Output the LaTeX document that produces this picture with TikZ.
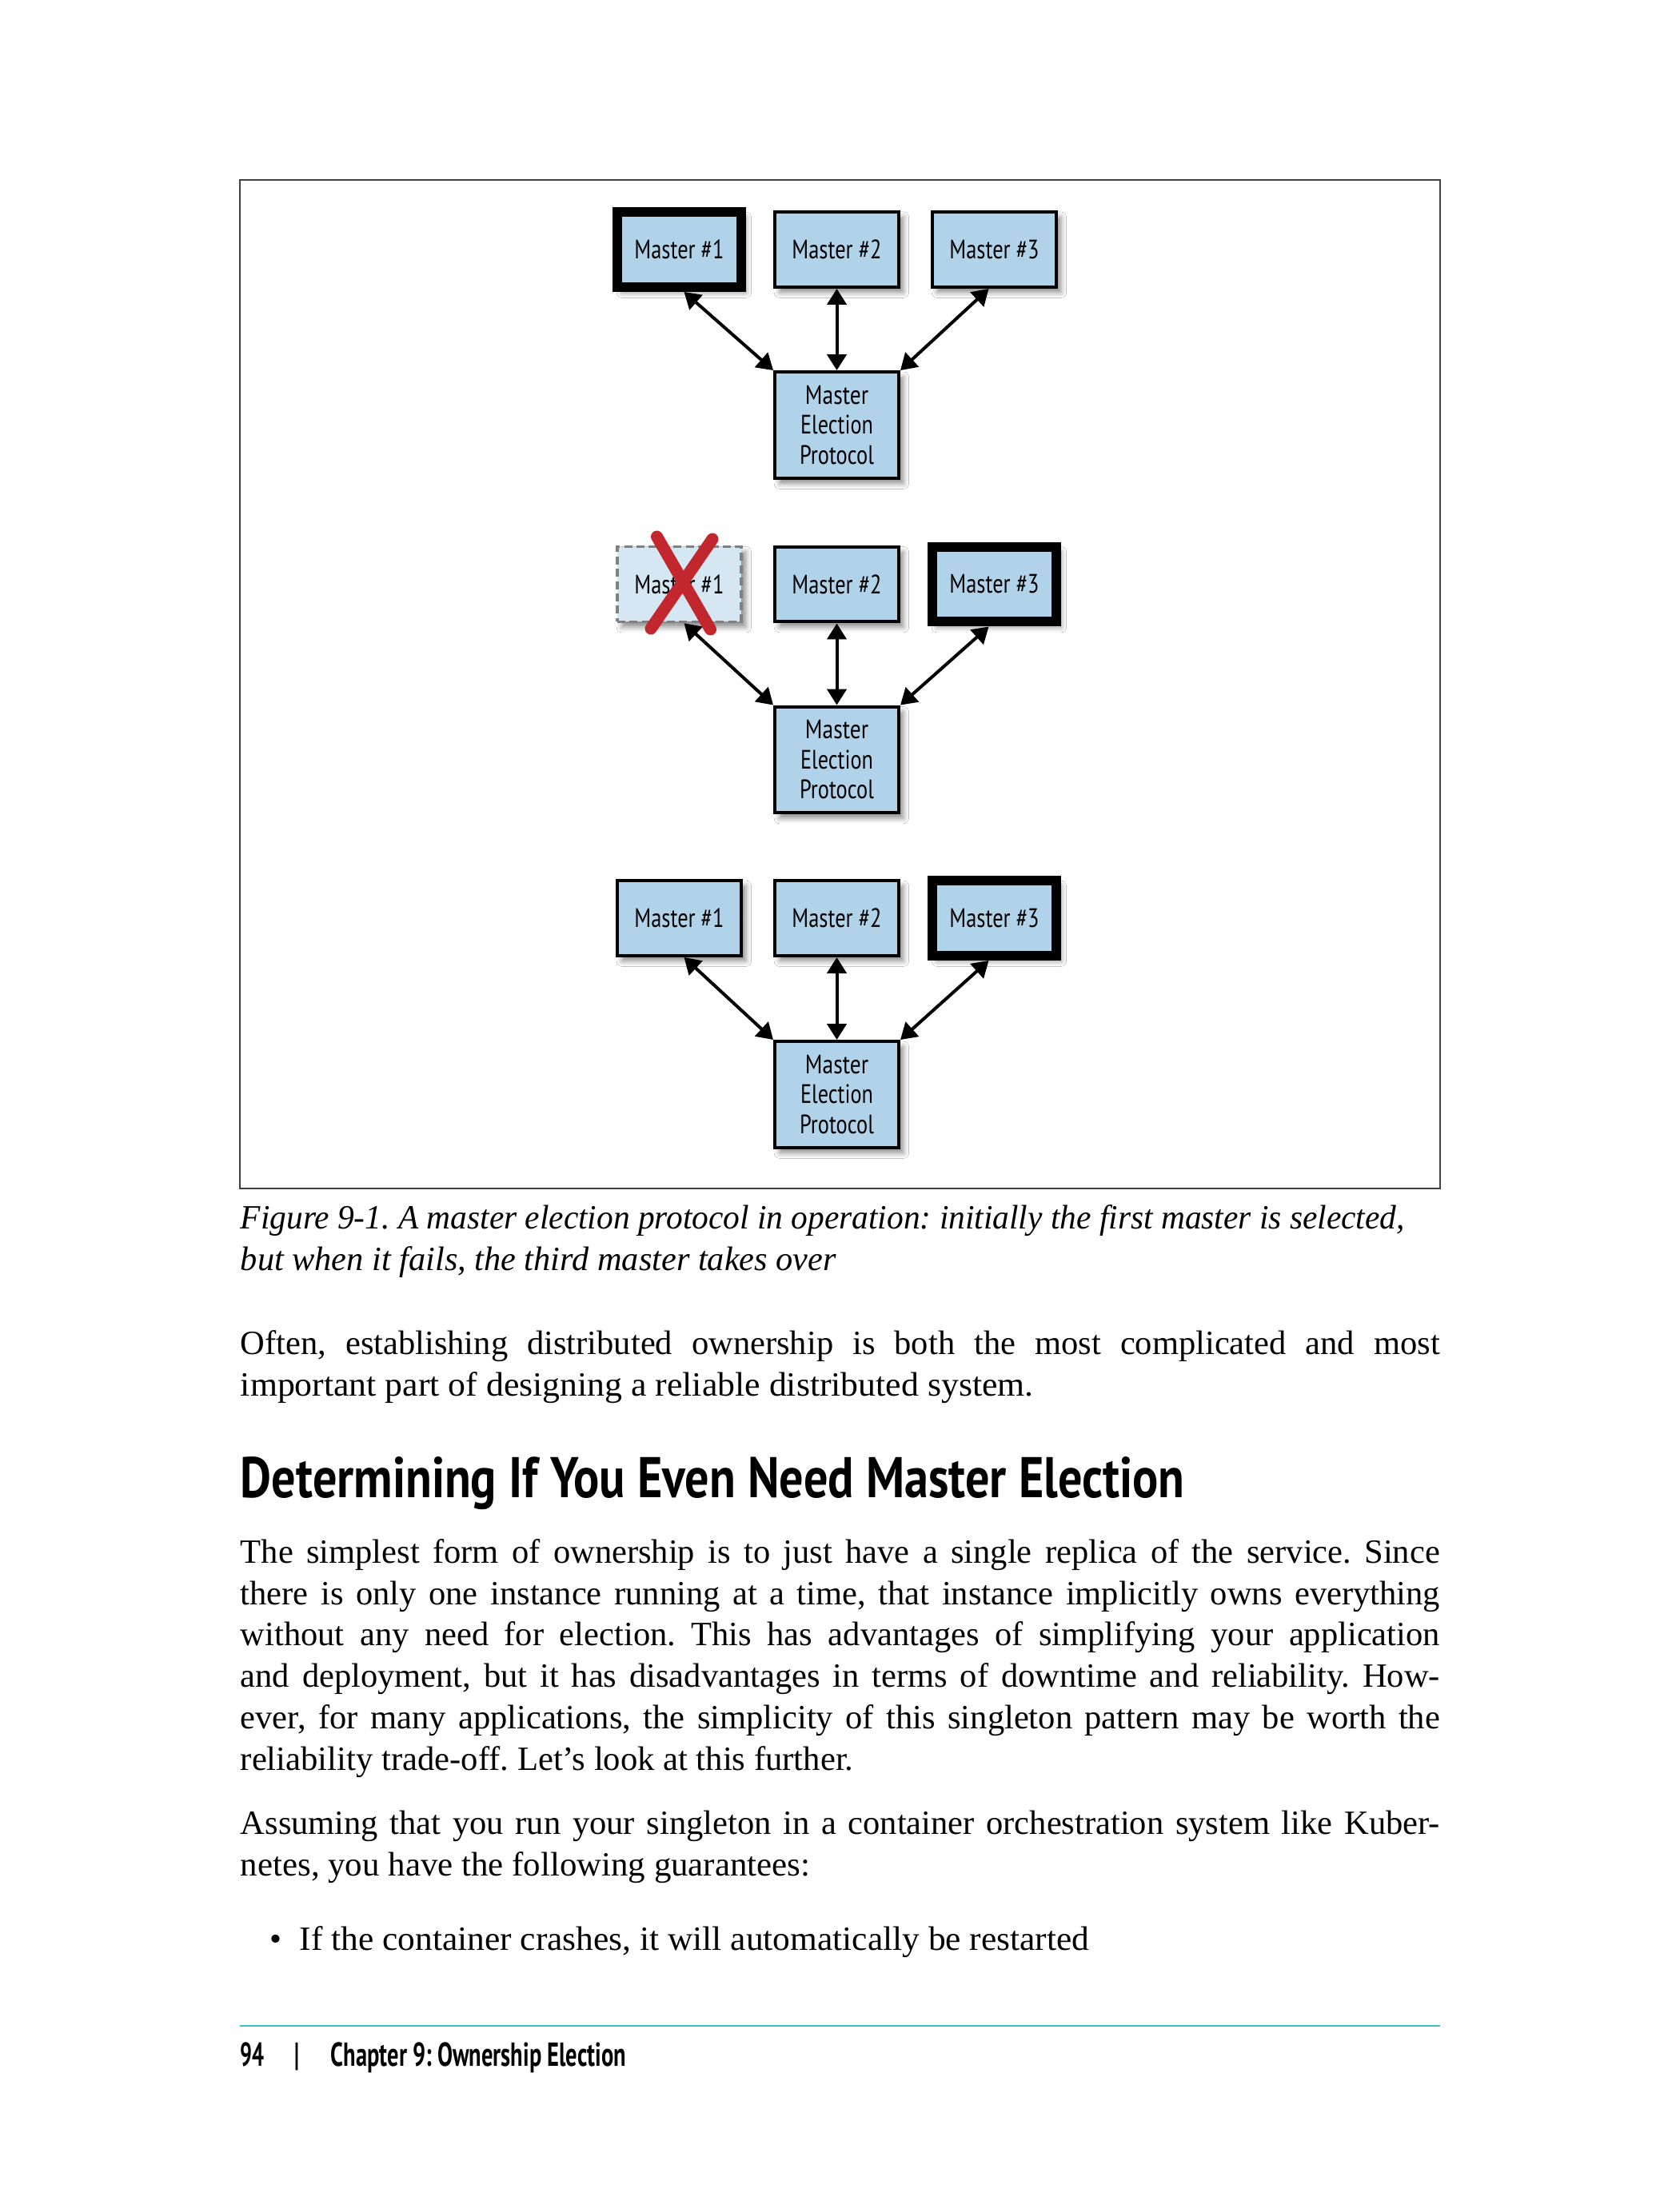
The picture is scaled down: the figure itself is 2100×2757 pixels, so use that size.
\documentclass[tikz,border=0pt]{standalone}
\usepackage{graphicx}
\usepackage{fontspec}
\setmainfont{Liberation Serif}
\newfontfamily\labfont{PT Sans}
\usetikzlibrary{arrows.meta,shadows.blur,calc}
\definecolor{boxblue}{RGB}{176,211,233}
\definecolor{deadblue}{RGB}{214,231,244}
\definecolor{xred}{RGB}{193,39,45}
\definecolor{rulec}{RGB}{64,192,192}
\newcommand\fitw[2]{\resizebox{#1}{\height}{#2}}
\tikzset{
  mbox/.style={draw=black, line width=0.96pt, fill=boxblue, minimum width=37.2pt,
    minimum height=22.56pt, inner sep=0pt, align=center,
    font=\labfont\fontsize{8}{9}\selectfont,
    blur shadow={shadow xshift=1.4pt, shadow yshift=-1.6pt, shadow blur radius=1.6pt, shadow opacity=45}},
  leader/.style={mbox, line width=2.88pt},
  deadbox/.style={mbox, draw=black!50, fill=deadblue, line width=0.85pt, dash pattern=on 2.4pt off 1.3pt},
  pbox/.style={mbox, minimum height=31.9pt},
  conn/.style={>={Triangle[length=4.8pt,width=5.8pt]}, <->, line width=0.96pt},
  xline/.style={draw=xred, line width=3.6pt, line cap=round},
  bodyl/.style={anchor=base west, inner sep=0pt, font=\fontsize{10.2}{12}\selectfont},
  capl/.style={bodyl, font=\fontsize{10.2}{12}\selectfont\itshape},
  foot/.style={anchor=base west, inner sep=0pt, font=\labfont\bfseries\fontsize{10}{12}\selectfont},
}
\newcommand\mlabel[1]{\fitw{26.9pt}{#1}}
\newcommand\plabel{\fitw{19pt}{Master}\\\fitw{21.8pt}{Election}\\\fitw{22.3pt}{Protocol}}
\newcommand\full[1]{\makebox[360pt][s]{#1}}
\frenchspacing
\begin{document}
\begin{tikzpicture}[x=0.24pt,y=-0.24pt]
\useasboundingbox (0,0) rectangle (2100,2757);
\fill[white] (0,0) rectangle (2100,2757);
% figure frame
\draw[black!75, line width=0.4pt] (300,225) rectangle (1801,1486);
% ---- row 1
\node[leader] (a1) at (849.5,312) {\mlabel{Master \#1}};
\node[mbox] (a2) at (1046.5,312) {\mlabel{Master \#2}};
\node[mbox] (a3) at (1243.5,312) {\mlabel{Master \#3}};
\node[pbox] (ap) at (1046.5,531.5) {\plabel};
\draw[conn] ($(a1.south)+(6,0)$) -- (ap.north west);
\draw[conn] (a2.south) -- (ap.north);
\draw[conn] ($(a3.south)+(-7,0)$) -- (ap.north east);
% ---- row 2
\node[deadbox] (b1) at (849.5,730.5) {\mlabel{Master \#1}};
\node[mbox] (b2) at (1046.5,730.5) {\mlabel{Master \#2}};
\node[leader] (b3) at (1243.5,730.5) {\mlabel{Master \#3}};
\node[pbox] (bp) at (1046.5,950) {\plabel};
\draw[conn] ($(b1.south)+(6,0)$) -- (bp.north west);
\draw[conn] (b2.south) -- (bp.north);
\draw[conn] ($(b3.south)+(-7,0)$) -- (bp.north east);
\draw[xline] (821.5,671) -- (888.5,787);
\draw[xline] (891,674) -- (814,786);
% ---- row 3
\node[mbox] (c1) at (849.5,1148) {\mlabel{Master \#1}};
\node[mbox] (c2) at (1046.5,1148) {\mlabel{Master \#2}};
\node[leader] (c3) at (1243.5,1148) {\mlabel{Master \#3}};
\node[pbox] (cp) at (1046.5,1368.5) {\plabel};
\draw[conn] ($(c1.south)+(6,0)$) -- (cp.north west);
\draw[conn] (c2.south) -- (cp.north);
\draw[conn] ($(c3.south)+(-7,0)$) -- (cp.north east);
% ---- caption
\node[capl] (cap1) at (300,1536) {\fitw{349.4pt}{Figure 9-1. A master election protocol in operation: initially the first master is selected,}};
\node[capl] (cap2) at (300,1588) {\fitw{178.8pt}{but when it fails, the third master takes over}};
% ---- paragraph 1
\node[bodyl] (p1a) at (300,1693) {\full{Often, establishing distributed ownership is both the most complicated and most}};
\node[bodyl] (p1b) at (300,1745) {\fitw{238pt}{important part of designing a reliable distributed system.}};
% ---- heading
\node[anchor=base west, inner sep=0pt, font=\labfont\bfseries\fontsize{17.2}{20}\selectfont] (h) at (300,1872)
  {\fitw{283.4pt}{Determining If You Even Need Master Election}};
% ---- paragraph 2
\node[bodyl] (p2a) at (300,1954) {\full{The simplest form of ownership is to just have a single replica of the service. Since}};
\node[bodyl] (p2b) at (300,2006) {\full{there is only one instance running at a time, that instance implicitly owns everything}};
\node[bodyl] (p2c) at (300,2057) {\full{without any need for election. This has advantages of simplifying your application}};
\node[bodyl] (p2d) at (300,2109) {\full{and deployment, but it has disadvantages in terms of downtime and reliability. How-}};
\node[bodyl] (p2e) at (300,2161) {\full{ever, for many applications, the simplicity of this singleton pattern may be worth the}};
\node[bodyl] (p2f) at (300,2213) {\fitw{184pt}{reliability trade-off. Let’s look at this further.}};
% ---- paragraph 3
\node[bodyl] (p3a) at (300,2293) {\full{Assuming that you run your singleton in a container orchestration system like Kuber-}};
\node[bodyl] (p3b) at (300,2345) {\fitw{171pt}{netes, you have the following guarantees:}};
% ---- bullet
\node[bodyl, anchor=base] (bul) at (345,2438) {•};
\node[bodyl] (b1t) at (374,2438) {\fitw{237pt}{If the container crashes, it will automatically be restarted}};
% ---- footer
\draw[rulec, line width=0.5pt] (300,2533) -- (1801,2533);
\node[foot] (pg) at (300,2583) {\fitw{7.2pt}{94}};
\node[foot, anchor=base, font=\labfont\fontsize{10}{12}\selectfont] (bar) at (371,2583) {|};
\node[foot] (chap) at (413,2583) {\fitw{88.6pt}{Chapter 9: Ownership Election}};
\end{tikzpicture}
\end{document}
